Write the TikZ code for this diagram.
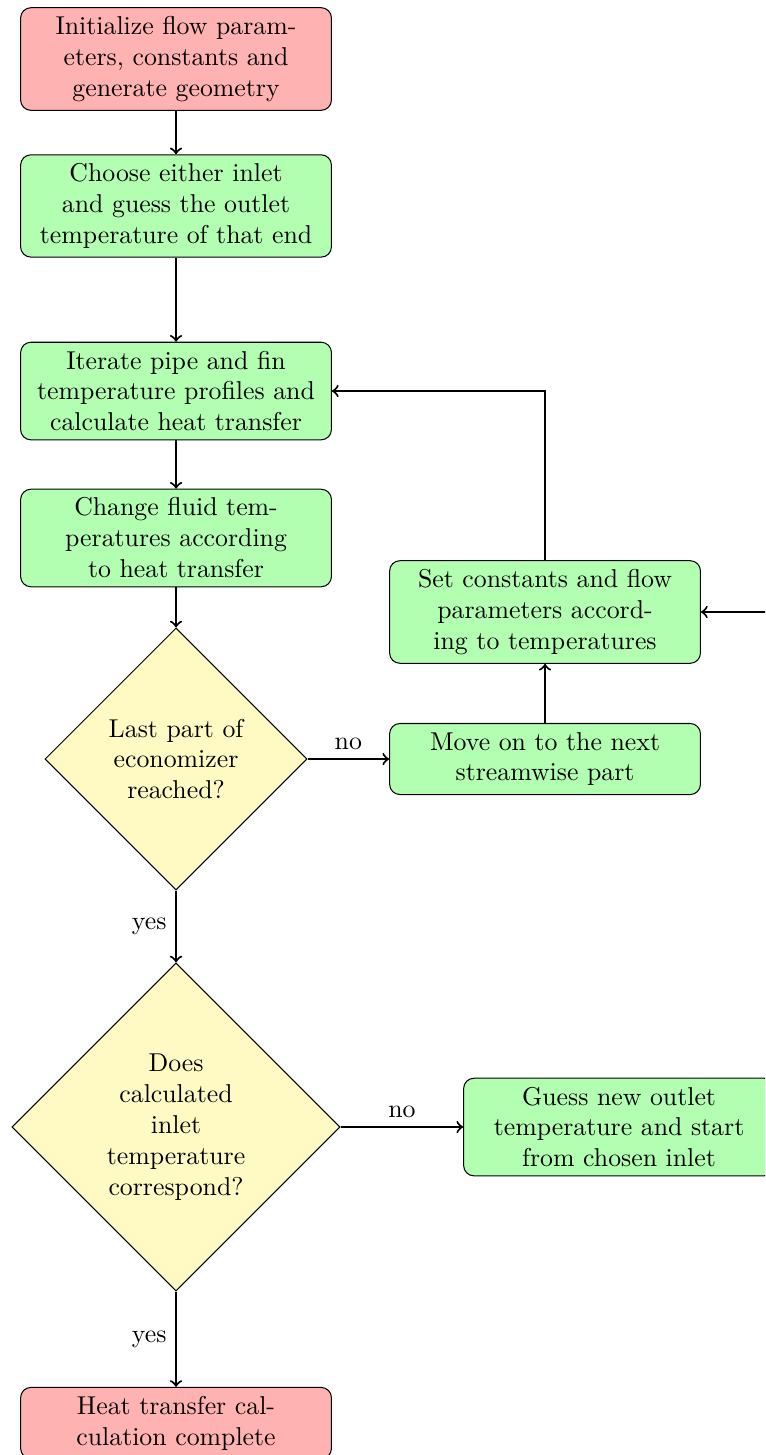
\documentclass[tikz,border=0pt]{standalone}
\usetikzlibrary{shapes.geometric}
\definecolor{questionfill}{RGB}{255,249,196}
\begin{document}
\begin{tikzpicture}[
    terminal/.style={rectangle, rounded corners, draw, fill=red!30, text width=4cm, align=center},
    process/.style={rectangle, rounded corners, draw, fill=green!30, text width=4cm, align=center},
    decision/.style={diamond, draw, fill=questionfill, text width=2.2cm, align=center, inner sep=0pt},
    flowarrow/.style={->, thick}
]
    \useasboundingbox (0,0) rectangle (10.422,-19.821);
    \clip (0,0) rectangle (10.422,-19.821);
    % Left column
    \node[terminal] (init) at (2.398,-0.804) {Initialize flow param-\\eters, constants and\\generate geometry};
    \node[process] (choose) at (2.398,-2.806) {Choose either inlet\\and guess the outlet\\temperature of that end};
    \node[process] (iterate) at (2.398,-5.327) {Iterate pipe and fin\\temperature profiles and\\calculate heat transfer};
    \node[process] (change) at (2.398,-7.329) {Change fluid tem-\\peratures according\\to heat transfer};
    \node[decision, minimum size=3.57cm] (last) at (2.398,-10.340) {Last part of\\economizer\\reached?};
    \node[decision, minimum size=4.47cm] (match) at (2.398,-15.353) {Does\\calculated\\inlet\\temperature\\correspond?};
    \node[terminal] (done) at (2.398,-19.386) {Heat transfer cal-\\culation complete};
    % Right column
    \node[process] (setconst) at (7.425,-8.337) {Set constants and flow\\parameters accord-\\ing to temperatures};
    \node[process] (moveon) at (7.425,-10.340) {Move on to the next\\streamwise part};
    \node[process] (guess) at (8.433,-15.353) {Guess new outlet\\temperature and start\\from chosen inlet};
    % Arrows
    \draw[flowarrow] (init) -- (choose);
    \draw[flowarrow] (choose) -- (iterate);
    \draw[flowarrow] (iterate) -- (change);
    \draw[flowarrow] (change) -- (last);
    \draw[flowarrow] (last) -- node[above] {no} (moveon);
    \draw[flowarrow] (moveon) -- (setconst);
    \draw[flowarrow] (setconst.north) |- (iterate.east);
    \draw[flowarrow] (last) -- node[left] {yes} (match);
    \draw[flowarrow] (match) -- node[above] {no} (guess);
    \draw[flowarrow] (guess.east) -- ++(0.5,0) |- (setconst.east);
    \draw[flowarrow] (match) -- node[left] {yes} (done);
\end{tikzpicture}
\end{document}
